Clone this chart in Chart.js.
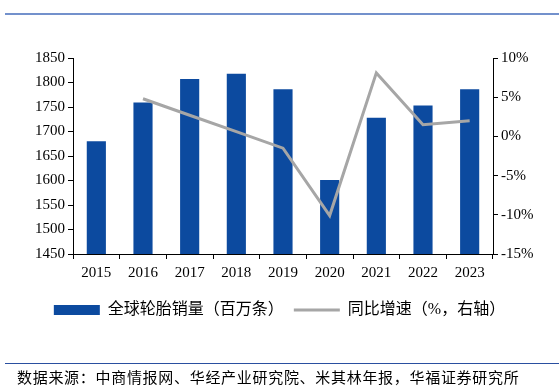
<!DOCTYPE html>
<html>
<head>
<meta charset="utf-8">
<script src="https://cdn.jsdelivr.net/npm/chart.js@4"></script>
<style>
  html, body { margin: 0; padding: 0; background: #fff; }
  body { width: 559px; height: 392px; position: relative; overflow: hidden; }
  #wrap { position: absolute; left: 0; top: 0; width: 559px; height: 392px; }
  .topline { position: absolute; left: 5px; right: 0; top: 13px; height: 2px; background: #7391CC; }
  .botline { position: absolute; left: 5px; right: 0; top: 363px; height: 1px; background: #2A4FA0; }
  .source { position: absolute; left: 17px; top: 366px; font: 15px "Liberation Serif", "Noto Sans CJK SC"; letter-spacing: 0.7px; color: #000; white-space: nowrap; }
</style>
</head>
<body>
<div class="topline"></div>
<div id="wrap"><canvas id="chart" width="559" height="392"></canvas></div>
<div class="botline"></div>
<div class="source">数据来源：中商情报网、华经产业研究院、米其林年报，华福证券研究所</div>
<script>
const years = ['2015', '2016', '2017', '2018', '2019', '2020', '2021', '2022', '2023']
// 全球轮胎销量（百万条）
const sales = [1680, 1759, 1807, 1818, 1786, 1601, 1728, 1753, 1786]
// 同比增速（%）
const growth = [null, 4.8, 2.7, 0.6, -1.5, -10.1, 8.1, 1.5, 2.0]

const serif = '"Liberation Serif", "Noto Sans CJK SC"'
const ctx = document.querySelector('#chart').getContext('2d')

// axis style shared by the two y axes
const axisTicks = { color: '#000', font: { family: serif, size: 15 }, padding: 3 }
const axisGrid = { drawOnChartArea: false, color: '#000', tickLength: 5 }

new Chart(ctx, {
  data: {
    labels: years,
    datasets: [
      {
        type: 'line',
        label: '同比增速（%，右轴）',
        data: growth,
        yAxisID: 'y1',
        borderColor: '#A6A6A6',
        backgroundColor: '#A6A6A6',
        borderWidth: 3,
        pointRadius: 0,
        pointStyle: 'line',
        tension: 0,
        order: 1
      },
      {
        type: 'bar',
        label: '全球轮胎销量（百万条）',
        data: sales,
        yAxisID: 'y',
        backgroundColor: '#0C4A9F',
        pointStyle: 'rect',
        barPercentage: 0.41,
        categoryPercentage: 1,
        order: 2
      }
    ]
  },
  options: {
    responsive: false,
    animation: false,
    layout: { padding: { top: 58, bottom: 64, left: 0, right: 0 } },
    plugins: {
      tooltip: { enabled: false },
      legend: {
        position: 'bottom',
        reverse: true,
        labels: {
          usePointStyle: true,
          pointStyleWidth: 46,
          boxHeight: 10,
          padding: 10,
          color: '#000',
          font: { family: serif, size: 16 }
        }
      }
    },
    scales: {
      x: {
        grid: { drawOnChartArea: false, offset: true, color: '#000', tickLength: 5 },
        border: { color: '#000', width: 1 },
        ticks: { color: '#000', font: { family: serif, size: 15 }, padding: 5, maxRotation: 0, autoSkip: false },
        afterFit: scale => { scale.height = 38 }
      },
      y: {
        position: 'left',
        min: 1450,
        max: 1850,
        ticks: { ...axisTicks, stepSize: 50, callback: v => String(v) },
        grid: axisGrid,
        border: { color: '#000', width: 1 },
        afterFit: scale => { scale.width = 73 }
      },
      y1: {
        position: 'right',
        min: -15,
        max: 10,
        ticks: { ...axisTicks, stepSize: 5, callback: v => v + '%' },
        grid: axisGrid,
        border: { color: '#000', width: 1 },
        afterFit: scale => { scale.width = 66 }
      }
    }
  }
})
</script>
</body>
</html>
